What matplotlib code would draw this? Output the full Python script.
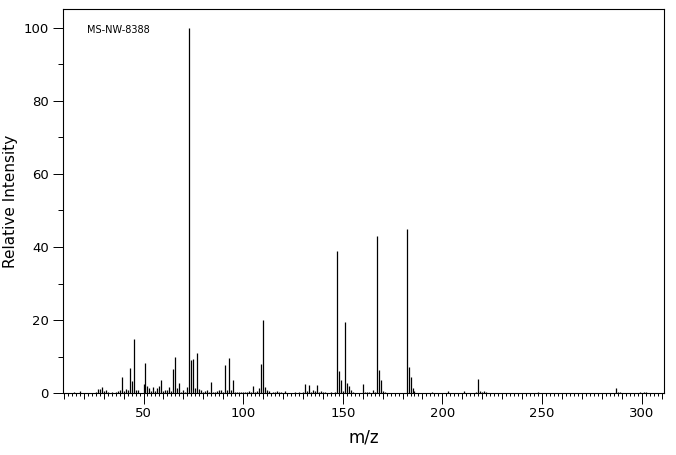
import numpy as np
import matplotlib.pyplot as plt
from matplotlib.ticker import MultipleLocator, FuncFormatter

# peak list (m/z, relative intensity)
mz = [15, 18, 26, 27, 28, 29, 30, 31, 32, 34, 36, 37, 38, 39, 40, 41, 42, 43, 44, 45,
      46, 47, 50, 51, 52, 53, 54, 55, 56, 57, 58, 59, 60, 61, 62, 63, 64, 65, 66, 67,
      68, 69, 70, 71, 72, 73, 74, 75, 76, 77, 78, 79, 80, 81, 82, 83, 84, 85, 86, 87,
      88, 89, 90, 91, 92, 93, 94, 95, 96, 97, 98, 99, 100, 101, 102, 103, 104, 105, 106, 107,
      108, 109, 110, 111, 112, 113, 115, 116, 117, 118, 119, 121, 126, 128, 130, 131, 132, 133, 134, 135,
      136, 137, 138, 139, 140, 141, 144, 146, 147, 148, 149, 150, 151, 152, 153, 154, 155, 160, 161, 162,
      163, 165, 166, 167, 168, 169, 170, 171, 182, 183, 184, 185, 186, 195, 203, 211, 217, 218, 219, 220,
      221, 222, 248, 287, 288, 289, 299, 301, 302]
intensity = [0.4, 0.6, 0.4, 1.2, 1.2, 1.7, 0.5, 0.9, 0.4, 0.4, 0.4, 0.5, 0.9, 4.5, 0.6, 1.2, 0.9, 6.9, 3.4, 14.9,
             0.9, 0.9, 2.6, 8.3, 2.0, 1.5, 0.6, 1.7, 0.6, 1.5, 2.0, 3.7, 0.6, 0.9, 0.9, 1.7, 0.6, 6.7, 10.0, 1.5,
             2.8, 0.4, 0.9, 0.4, 1.7, 100.0, 9.1, 9.4, 1.5, 11.0, 1.2, 0.9, 0.4, 0.6, 0.9, 0.4, 3.1, 0.4, 0.4, 0.6,
             0.9, 0.9, 0.4, 7.8, 0.9, 9.7, 0.9, 3.7, 0.4, 0.4, 0.4, 0.4, 0.4, 0.4, 0.4, 0.6, 0.4, 2.0, 0.4, 0.6,
             1.5, 8.0, 20.1, 1.7, 0.9, 0.6, 0.4, 0.4, 0.6, 0.4, 0.4, 0.6, 0.4, 0.4, 0.4, 2.6, 0.6, 2.3, 0.4, 0.9,
             0.6, 2.3, 0.4, 0.6, 0.4, 0.4, 0.4, 0.4, 38.9, 6.1, 3.7, 0.6, 19.6, 2.8, 2.0, 0.9, 0.4, 2.6, 0.4, 0.4,
             0.4, 0.9, 0.4, 43.0, 6.4, 3.7, 0.6, 0.4, 45.0, 7.2, 4.5, 1.5, 0.6, 0.4, 0.5, 0.5, 0.3, 3.8, 0.5, 0.3,
             0.5, 0.3, 0.3, 1.4, 0.3, 0.3, 0.3, 0.3, 0.3]

fig = plt.figure(figsize=(6.76, 4.55), dpi=100)
ax = fig.add_axes([0.0932, 0.1356, 0.8890, 0.8440])

ax.vlines(mz, 0, intensity, colors='black', linewidth=0.9)

ax.set_xlim(9.6, 311.2)
ax.set_ylim(0, 105)

for s in ax.spines.values():
    s.set_linewidth(0.8)

# x: labels every 50, medium ticks every 10, small ticks every 2
ax.xaxis.set_major_locator(MultipleLocator(10))
ax.xaxis.set_minor_locator(MultipleLocator(2))
ax.xaxis.set_major_formatter(FuncFormatter(lambda v, p: '%d' % v if v % 50 == 0 else ''))
ax.tick_params(axis='x', which='major', length=4.1, width=0.7, pad=5, labelsize=9.5)
ax.tick_params(axis='x', which='minor', length=2.2, width=0.7)
ax.figure.canvas.draw()
for t in ax.xaxis.get_major_ticks():
    if abs(t.get_loc() % 50) < 1e-6:
        t.tick1line.set_markersize(7.7)
        t.label1.set_y(-0.004)

ax.yaxis.set_major_locator(MultipleLocator(20))
ax.yaxis.set_minor_locator(MultipleLocator(10))
ax.tick_params(axis='y', which='major', length=7.2, width=0.7, pad=3, labelsize=9.5)
ax.tick_params(axis='y', which='minor', length=3.6, width=0.7)

ax.set_xlabel('m/z', fontsize=12, labelpad=6)
ax.set_ylabel('Relative Intensity', fontsize=11, labelpad=4)

ax.text(0.04, 0.945, 'MS-NW-8388', transform=ax.transAxes, fontsize=7, va='center', ha='left')

plt.savefig('out.png', dpi=100)
